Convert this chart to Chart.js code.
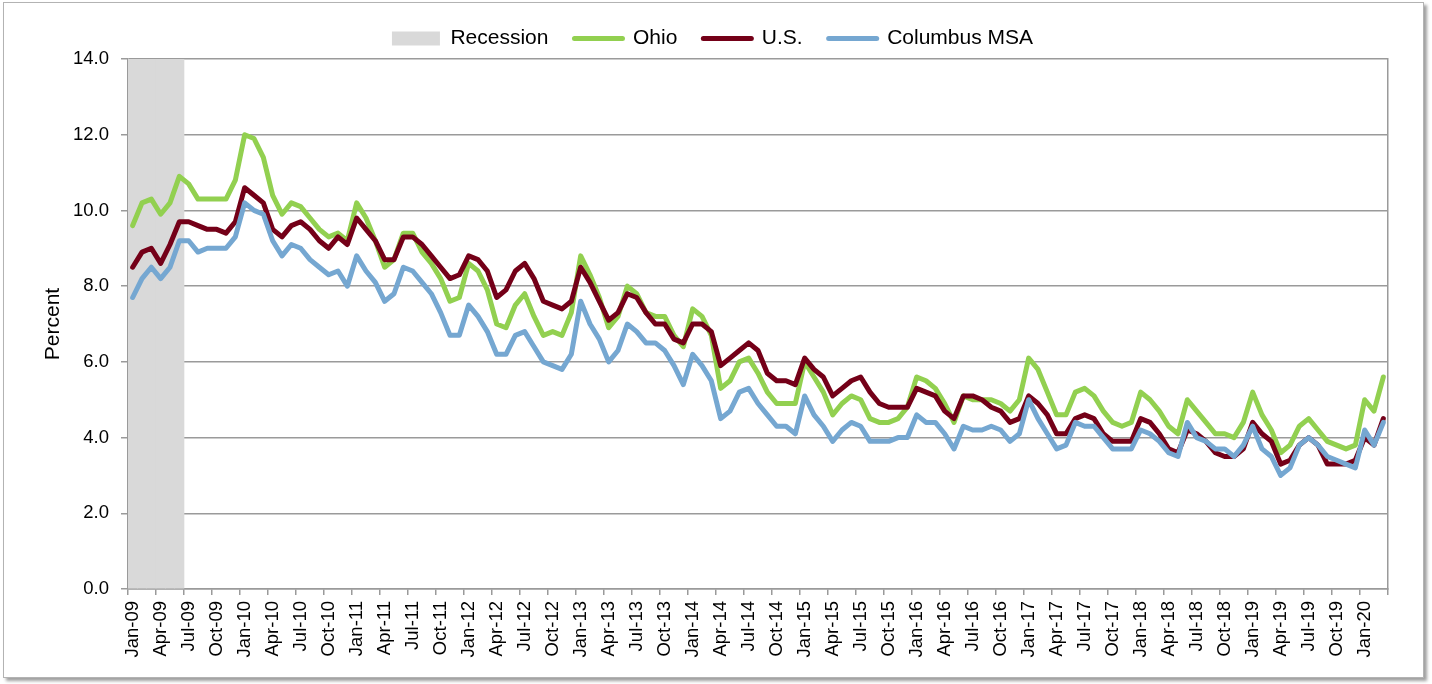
<!DOCTYPE html>
<html><head><meta charset="utf-8">
<script src="https://cdn.jsdelivr.net/npm/chart.js@4.4.1/dist/chart.umd.min.js"></script>
<style>
html,body{margin:0;padding:0;background:#fff;}
#frame{position:absolute;left:3px;top:2px;width:1419px;height:674px;border:1.5px solid #b3b3b3;box-shadow:3px 3px 3px #a0a0a0;background:#fff;}
#c{position:absolute;left:0;top:0;}
</style></head><body>
<div id="frame"></div>
<canvas id="c" width="1432" height="684"></canvas>
<script>
const categories = [
 'Jan-09','Feb-09','Mar-09','Apr-09','May-09','Jun-09','Jul-09','Aug-09','Sep-09','Oct-09','Nov-09','Dec-09',
 'Jan-10','Feb-10','Mar-10','Apr-10','May-10','Jun-10','Jul-10','Aug-10','Sep-10','Oct-10','Nov-10','Dec-10',
 'Jan-11','Feb-11','Mar-11','Apr-11','May-11','Jun-11','Jul-11','Aug-11','Sep-11','Oct-11','Nov-11','Dec-11',
 'Jan-12','Feb-12','Mar-12','Apr-12','May-12','Jun-12','Jul-12','Aug-12','Sep-12','Oct-12','Nov-12','Dec-12',
 'Jan-13','Feb-13','Mar-13','Apr-13','May-13','Jun-13','Jul-13','Aug-13','Sep-13','Oct-13','Nov-13','Dec-13',
 'Jan-14','Feb-14','Mar-14','Apr-14','May-14','Jun-14','Jul-14','Aug-14','Sep-14','Oct-14','Nov-14','Dec-14',
 'Jan-15','Feb-15','Mar-15','Apr-15','May-15','Jun-15','Jul-15','Aug-15','Sep-15','Oct-15','Nov-15','Dec-15',
 'Jan-16','Feb-16','Mar-16','Apr-16','May-16','Jun-16','Jul-16','Aug-16','Sep-16','Oct-16','Nov-16','Dec-16',
 'Jan-17','Feb-17','Mar-17','Apr-17','May-17','Jun-17','Jul-17','Aug-17','Sep-17','Oct-17','Nov-17','Dec-17',
 'Jan-18','Feb-18','Mar-18','Apr-18','May-18','Jun-18','Jul-18','Aug-18','Sep-18','Oct-18','Nov-18','Dec-18',
 'Jan-19','Feb-19','Mar-19','Apr-19','May-19','Jun-19','Jul-19','Aug-19','Sep-19','Oct-19','Nov-19','Dec-19',
 'Jan-20','Feb-20','Mar-20'
];
const recessionMonths = ['Jan-09','Feb-09','Mar-09','Apr-09','May-09','Jun-09'];
const ohio = [
 9.6,10.2,10.3,9.9,10.2,10.9,10.7,10.3,10.3,10.3,10.3,10.8,
 12.0,11.9,11.4,10.4,9.9,10.2,10.1,9.8,9.5,9.3,9.4,9.2,
 10.2,9.8,9.2,8.5,8.7,9.4,9.4,8.9,8.6,8.2,7.6,7.7,
 8.6,8.4,7.9,7.0,6.9,7.5,7.8,7.2,6.7,6.8,6.7,7.3,
 8.8,8.3,7.7,6.9,7.2,8.0,7.8,7.3,7.2,7.2,6.7,6.4,
 7.4,7.2,6.7,5.3,5.5,6.0,6.1,5.7,5.2,4.9,4.9,4.9,
 6.0,5.6,5.2,4.6,4.9,5.1,5.0,4.5,4.4,4.4,4.5,4.8,
 5.6,5.5,5.3,4.9,4.4,5.1,5.0,5.0,5.0,4.9,4.7,5.0,
 6.1,5.8,5.2,4.6,4.6,5.2,5.3,5.1,4.7,4.4,4.3,4.4,
 5.2,5.0,4.7,4.3,4.1,5.0,4.7,4.4,4.1,4.1,4.0,4.4,
 5.2,4.6,4.2,3.6,3.8,4.3,4.5,4.2,3.9,3.8,3.7,3.8,
 5.0,4.7,5.6
];
const us = [
 8.5,8.9,9.0,8.6,9.1,9.7,9.7,9.6,9.5,9.5,9.4,9.7,
 10.6,10.4,10.2,9.5,9.3,9.6,9.7,9.5,9.2,9.0,9.3,9.1,
 9.8,9.5,9.2,8.7,8.7,9.3,9.3,9.1,8.8,8.5,8.2,8.3,
 8.8,8.7,8.4,7.7,7.9,8.4,8.6,8.2,7.6,7.5,7.4,7.6,
 8.5,8.1,7.6,7.1,7.3,7.8,7.7,7.3,7.0,7.0,6.6,6.5,
 7.0,7.0,6.8,5.9,6.1,6.3,6.5,6.3,5.7,5.5,5.5,5.4,
 6.1,5.8,5.6,5.1,5.3,5.5,5.6,5.2,4.9,4.8,4.8,4.8,
 5.3,5.2,5.1,4.7,4.5,5.1,5.1,5.0,4.8,4.7,4.4,4.5,
 5.1,4.9,4.6,4.1,4.1,4.5,4.6,4.5,4.1,3.9,3.9,3.9,
 4.5,4.4,4.1,3.7,3.6,4.2,4.1,3.9,3.6,3.5,3.5,3.7,
 4.4,4.1,3.9,3.3,3.4,3.8,4.0,3.8,3.3,3.3,3.3,3.4,
 4.0,3.8,4.5
];
const columbus = [
 7.7,8.2,8.5,8.2,8.5,9.2,9.2,8.9,9.0,9.0,9.0,9.3,
 10.2,10.0,9.9,9.2,8.8,9.1,9.0,8.7,8.5,8.3,8.4,8.0,
 8.8,8.4,8.1,7.6,7.8,8.5,8.4,8.1,7.8,7.3,6.7,6.7,
 7.5,7.2,6.8,6.2,6.2,6.7,6.8,6.4,6.0,5.9,5.8,6.2,
 7.6,7.0,6.6,6.0,6.3,7.0,6.8,6.5,6.5,6.3,5.9,5.4,
 6.2,5.9,5.5,4.5,4.7,5.2,5.3,4.9,4.6,4.3,4.3,4.1,
 5.1,4.6,4.3,3.9,4.2,4.4,4.3,3.9,3.9,3.9,4.0,4.0,
 4.6,4.4,4.4,4.1,3.7,4.3,4.2,4.2,4.3,4.2,3.9,4.1,
 5.0,4.5,4.1,3.7,3.8,4.4,4.3,4.3,4.0,3.7,3.7,3.7,
 4.2,4.1,3.9,3.6,3.5,4.4,4.0,3.9,3.7,3.7,3.5,3.8,
 4.3,3.7,3.5,3.0,3.2,3.8,4.0,3.8,3.5,3.4,3.3,3.2,
 4.2,3.8,4.4
];
const yTicks = [0, 2, 4, 6, 8, 10, 12, 14];
const yMax = 14;

const FONT = "'Liberation Sans', Arial, sans-serif";
const GRID = '#9a9a9a';
const recession = categories.map(c => recessionMonths.includes(c) ? yMax : null);

new Chart(document.getElementById('c'), {
  data: {
    labels: categories,
    datasets: [
      {type:'bar', label:'Recession', data: recession, backgroundColor:'#d9d9d9', borderWidth:0, barPercentage:1, categoryPercentage:1, order:4},
      {type:'line', label:'Ohio', data: ohio, borderColor:'#92d050', backgroundColor:'#92d050', borderWidth:5, pointRadius:0, tension:0, fill:false, order:3, borderJoinStyle:'round', borderCapStyle:'round'},
      {type:'line', label:'U.S.', data: us, borderColor:'#740018', backgroundColor:'#740018', borderWidth:5, pointRadius:0, tension:0, fill:false, order:2, borderJoinStyle:'round', borderCapStyle:'round'},
      {type:'line', label:'Columbus MSA', data: columbus, borderColor:'#75a7d1', backgroundColor:'#75a7d1', borderWidth:5, pointRadius:0, tension:0, fill:false, order:1, borderJoinStyle:'round', borderCapStyle:'round'}
    ]
  },
  options: {
    responsive:false, animation:false, devicePixelRatio:1,
    layout:{padding:{left:37, right:44, top:2, bottom:8}},
    plugins:{
      tooltip:{enabled:false},
      legend:{
        position:'top',
        labels:{
          usePointStyle:true, pointStyleWidth:48, boxHeight:14, padding:26,
          color:'#000', font:{family:FONT, size:21},
          generateLabels(chart){
            return chart.data.datasets.map((ds,i)=>({
              text: ds.label, datasetIndex:i,
              pointStyle: ds.type==='bar' ? 'rect' : 'line',
              fillStyle: ds.type==='bar' ? ds.backgroundColor : ds.borderColor,
              strokeStyle: ds.type==='bar' ? ds.backgroundColor : ds.borderColor,
              lineWidth: ds.type==='bar' ? 0 : 5,
              lineCap:'round', fontColor:'#000', hidden:false
            }));
          }
        }
      }
    },
    scales:{
      x:{
        offset:true,
        grid:{offset:true, drawOnChartArea:false, drawTicks:true, tickLength:6, lineWidth:1.5,
          color: ctx => (ctx.index === undefined || ctx.index % 3 === 0) ? GRID : 'rgba(0,0,0,0)'},
        border:{color:GRID, width:1.5},
        ticks:{autoSkip:false, minRotation:90, maxRotation:90, padding:6, color:'#000',
          font:{family:FONT, size:18.5},
          callback:(v,i)=> i % 3 === 0 ? categories[i] : ''},
        afterFit: s => { s.height = 684 - 8 - 589; }
      },
      y:{
        min:0, max:yMax,
        afterBuildTicks: s => { s.ticks = yTicks.map(v => ({value:v})); },
        ticks:{padding:12, color:'#000', font:{family:FONT, size:18.5}, callback: v => Number(v).toFixed(1)},
        grid:{color:GRID, lineWidth:1.5, tickLength:7},
        border:{color:GRID, width:1.5},
        title:{display:true, text:'Percent', color:'#000', font:{family:FONT, size:21}, padding:{top:4, bottom:4}},
        afterFit: s => { s.width = 128 - 37; }
      },
      y2:{
        position:'right', min:0, max:yMax, display:true,
        ticks:{display:false},
        grid:{drawOnChartArea:false, drawTicks:false},
        border:{color:GRID, width:1.5},
        afterFit: s => { s.width = 0; }
      }
    }
  }
});
</script>
</body></html>
